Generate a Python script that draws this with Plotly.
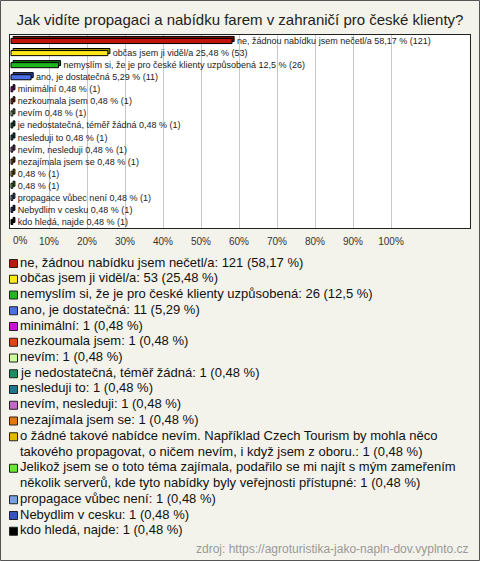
import textwrap
import plotly.graph_objects as go

# ---------------- data ----------------
title_text = "Jak vidíte propagaci a nabídku farem v zahraničí pro české klienty?"
categories = [
    "ne, žádnou nabídku jsem nečetl/a",
    "občas jsem ji viděl/a",
    "nemyslím si, že je pro české klienty uzpůsobená",
    "ano, je dostatečná",
    "minimální",
    "nezkoumala jsem",
    "nevím",
    "je nedostatečná, téměř žádná",
    "nesleduji to",
    "nevím, nesleduji",
    "nezajímala jsem se",
    "o žádné takové nabídce nevím. Například Czech Tourism by mohla něco takového propagovat, o ničem nevím, i když jsem z oboru.",
    "Jelikož jsem se o toto téma zajímala, podařilo se mi najít s mým zameřením několik serverů, kde tyto nabídky byly veřejnosti přístupné",
    "propagace vůbec není",
    "Nebydlim v cesku",
    "kdo hledá, najde",
]
counts = [121, 53, 26, 11, 1, 1, 1, 1, 1, 1, 1, 1, 1, 1, 1, 1]
percents = [58.17, 25.48, 12.5, 5.29, 0.48, 0.48, 0.48, 0.48, 0.48, 0.48, 0.48, 0.48, 0.48, 0.48, 0.48, 0.48]
colors = [
    "#C0140C", "#FFE81A", "#1EB81E", "#4A70E8", "#C814D8", "#E0460E", "#CCFF99", "#1A9060",
    "#1C7890", "#C468C8", "#E07810", "#E8B800", "#66E63C", "#78A0E6", "#3356B8", "#000000",
]
tick_values = [0, 10, 20, 30, 40, 50, 60, 70, 80, 90, 100]
tick_labels = ["0%", "10%", "20%", "30%", "40%", "50%", "60%", "70%", "80%", "90%", "100%"]
source_text = "zdroj: https://agroturistika-jako-napln-dov.vyplnto.cz"

# ---------------- layout geometry (pixels) ----------------
W, H = 480, 561
ML, MR, MT = 10, 10, 35
PLOT_BOTTOM = 228
MB = H - PLOT_BOTTOM
PW = W - ML - MR
PH = H - MT - MB
FONT = "Liberation Sans, Arial, sans-serif"
BG = "#F3F3EB"


def xp(px):
    return (px - ML) / PW


def yp(py):
    return (H - MB - py) / PH


def fmt(p):
    return f"{p:g}".replace(".", ",")


def darker(hexc, f=0.62):
    r, g, b = int(hexc[1:3], 16), int(hexc[3:5], 16), int(hexc[5:7], 16)
    return f"rgb({int(r * f)},{int(g * f)},{int(b * f)})"


n = len(categories)
ypos = list(range(n))
bar_text = [
    "\u00a0\u00a0" + ((c + " ") if len(c) <= 60 else "") + f"{fmt(p)} % ({k})"
    for c, p, k in zip(categories, percents, counts)
]

BW = 0.42
fig = go.Figure()
# depth (3D side) of bars
fig.add_trace(go.Bar(
    orientation="h", y=ypos, x=percents, base=[0.55] * n,
    width=BW, offset=-BW / 2 - 0.17,
    marker=dict(color=[darker(c) for c in colors], line=dict(color="#000000", width=1)),
    hoverinfo="skip", showlegend=False,
))
# front face of bars
fig.add_trace(go.Bar(
    orientation="h", y=ypos, x=percents,
    width=BW,
    marker=dict(color=colors, line=dict(color="#000000", width=1)),
    text=bar_text, textposition="outside", cliponaxis=False, constraintext="none",
    outsidetextfont=dict(family=FONT, size=9, color="#222222"),
    hoverinfo="skip", showlegend=False,
))

x_range = [-1 / 3.8, (PW - 1) / 3.8]
# the first label sits right of the axis edge in the reference -> drawn as annotation below
tick_text = [""] + tick_labels[1:]

fig.update_layout(
    width=W, height=H,
    margin=dict(l=ML, r=MR, t=MT, b=MB, pad=0, autoexpand=False),
    paper_bgcolor=BG, plot_bgcolor="#FFFFFF",
    barmode="overlay", showlegend=False,
    title=dict(text=title_text, x=0.5, xanchor="center", xref="paper",
               y=1 - 20 / H, yanchor="middle",
               font=dict(family=FONT, size=15, color="#222222")),
    xaxis=dict(range=x_range, tickvals=tick_values, ticktext=tick_text, automargin=False,
               showgrid=True, gridcolor="#C8C8C8", gridwidth=1, zeroline=False,
               showline=True, mirror=True, linecolor="#222222", linewidth=1,
               ticks="", ticklabelstandoff=4,
               tickfont=dict(family=FONT, size=10, color="#333333"), fixedrange=True),
    yaxis=dict(range=[n - 0.5, -0.5], showticklabels=False, showgrid=False, zeroline=False,
               automargin=False,
               showline=True, mirror=True, linecolor="#222222", linewidth=1, fixedrange=True),
    font=dict(family=FONT),
)

# ---------------- legend (built from the data arrays) ----------------
shapes = []
annotations = []
annotations.append(dict(text=tick_labels[0], xref="paper", yref="paper", x=xp(11), y=yp(240),
                        xanchor="left", yanchor="middle", showarrow=False,
                        font=dict(family=FONT, size=10, color="#333333")))
LEG_TOP = 262.0
PITCH = 15.75
line_idx = 0
for cat, k, p, col in zip(categories, counts, percents, colors):
    label = f"{cat}: {k} ({fmt(p)} %)"
    lines = textwrap.wrap(label, 74)
    cy = LEG_TOP + line_idx * PITCH
    shapes.append(dict(type="rect", xref="paper", yref="paper",
                       x0=xp(9.5), x1=xp(17.5), y0=yp(cy - 2.5), y1=yp(cy + 5.5),
                       fillcolor=col, line=dict(color="#222222", width=1)))
    for ln in lines:
        y = LEG_TOP + line_idx * PITCH
        annotations.append(dict(text=ln, xref="paper", yref="paper", x=xp(18), y=yp(y),
                                xanchor="left", yanchor="middle", showarrow=False,
                                font=dict(family=FONT, size=13, color="#111111")))
        line_idx += 1

annotations.append(dict(text=source_text, xref="paper", yref="paper", x=xp(471), y=yp(549),
                        xanchor="right", yanchor="middle", showarrow=False,
                        font=dict(family=FONT, size=12, color="#999999")))

# outer border
shapes.append(dict(type="rect", xref="paper", yref="paper",
                   x0=xp(0.5), x1=xp(W - 0.5), y0=yp(0.5), y1=yp(H - 0.5),
                   line=dict(color="#555555", width=1), fillcolor="rgba(0,0,0,0)"))

fig.update_layout(shapes=shapes, annotations=annotations)
fig.write_html("out.html", config={"displayModeBar": False},
               post_script="document.body.style.margin='0';document.body.style.overflow='hidden';")
